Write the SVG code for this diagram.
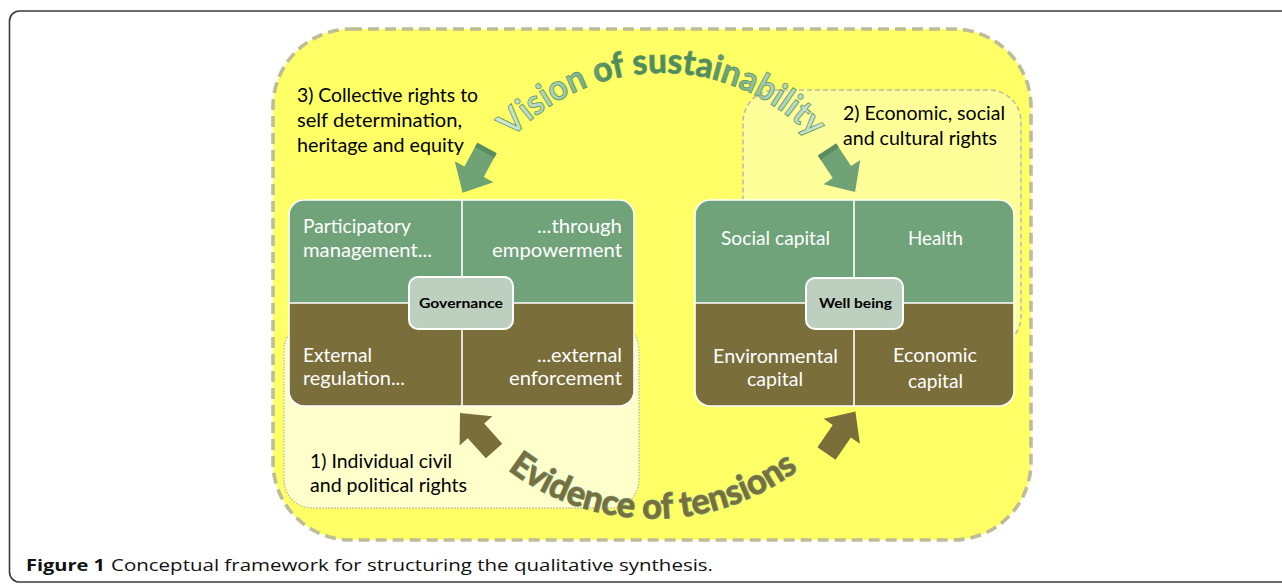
<svg xmlns="http://www.w3.org/2000/svg" xmlns:xlink="http://www.w3.org/1999/xlink" width="1282" height="584" viewBox="0 0 1282 584">
<style>
.lbl{font-family:Lato,"Open Sans","Liberation Sans",sans-serif;font-size:19px;fill:#000}
.cell{font-family:Lato,"Open Sans","Liberation Sans",sans-serif;font-size:19px;fill:#fff}
.hub{font-family:Lato,"Open Sans","Liberation Sans",sans-serif;font-size:14px;font-weight:bold;fill:#000}
.arc{font-family:Lato,"Open Sans","Liberation Sans",sans-serif;font-size:35px;font-weight:bold}
.cap{font-family:"Open Sans",Lato,"Liberation Sans",sans-serif;font-size:16.5px;fill:#111}
.green{fill:#70A37A}
.olive{fill:#7A6E3B}
.grid{stroke:#fff;stroke-width:1.6;fill:none}
.hubbox{fill:#BDCFBF;stroke:#fff;stroke-width:2}
</style>
<defs>
<path id="blockArrow" d="M0,-11 H27 V-22 L51,0 L27,22 V11 H0 Z"/>
<path id="visionArc" d="M 505.0 146.2 A 205 205 0 0 1 819.0 146.2"/>
<path id="evidenceArc" d="M 496.6 460.6 A 240 240 0 0 0 809.4 460.6"/>
<linearGradient id="visionGrad" gradientUnits="userSpaceOnUse" x1="498" y1="0" x2="835" y2="0">
<stop offset="0" stop-color="#D2EAD6"/>
<stop offset="0.18" stop-color="#A6CDAE"/>
<stop offset="0.33" stop-color="#4F8C5B"/>
<stop offset="0.62" stop-color="#4F8C5B"/>
<stop offset="0.8" stop-color="#A9D0B1"/>
<stop offset="1" stop-color="#D5ECD9"/>
</linearGradient>
</defs>
<rect width="1282" height="584" fill="#fff"/>
<rect x="9.5" y="11" width="1290" height="571" rx="10" fill="#fff" stroke="#3a3a3a" stroke-width="1.6"/>

<g id="sustainability-frame">
<rect x="273" y="29" width="758" height="511" rx="78" fill="#FFFF66" stroke="#BDBD98" stroke-width="3.6" stroke-dasharray="11 6"/>
</g>
<g id="rights-individual">
<rect x="284" y="322" width="355" height="186" rx="28" fill="#FFFFCC" stroke="#B9B9A6" stroke-width="1.3" stroke-dasharray="1.5 1.5"/>
<text class="lbl" x="310" y="468" textLength="142" lengthAdjust="spacingAndGlyphs">1) Individual civil</text>
<text class="lbl" x="310" y="492" textLength="157" lengthAdjust="spacingAndGlyphs">and political rights</text>
</g>
<g id="rights-economic">
<rect x="743" y="90" width="278" height="258" rx="32" fill="#FFFF99" stroke="#BDBDA8" stroke-width="1.6" stroke-dasharray="5 3"/>
<text class="lbl" x="843" y="120" textLength="162" lengthAdjust="spacingAndGlyphs">2) Economic, social</text>
<text class="lbl" x="843" y="145" textLength="154" lengthAdjust="spacingAndGlyphs">and cultural rights</text>
</g>
<g id="rights-collective">
<text class="lbl" x="297" y="102" textLength="181" lengthAdjust="spacingAndGlyphs">3) Collective rights to</text>
<text class="lbl" x="297" y="127" textLength="165" lengthAdjust="spacingAndGlyphs">self determination,</text>
<text class="lbl" x="297" y="152" textLength="167" lengthAdjust="spacingAndGlyphs">heritage and equity</text>
</g>

<g id="connectors">
<g transform="translate(487,148) rotate(118.6)">
<use xlink:href="#blockArrow" href="#blockArrow" fill="#6FA274"/>
<rect x="0" y="-11" width="5" height="22" fill="#5A8C5F"/>
</g>
<g transform="translate(827,149.5) rotate(56.6)">
<use xlink:href="#blockArrow" href="#blockArrow" fill="#6FA274"/>
<rect x="0" y="-11" width="5" height="22" fill="#5A8C5F"/>
</g>
<use xlink:href="#blockArrow" href="#blockArrow" class="olive" transform="translate(494,451) rotate(-131.8)"/>
<use xlink:href="#blockArrow" href="#blockArrow" class="olive" transform="translate(826.5,453.5) rotate(-55.5)"/>
</g>

<g id="governance">
<path class="green" d="M289,303 V215 A15 15 0 0 1 304,200 H619 A15 15 0 0 1 634,215 V303 Z"/>
<path class="olive" d="M289,303 H634 V391 A15 15 0 0 1 619,406 H304 A15 15 0 0 1 289,391 Z"/>
<rect class="grid" x="289" y="200" width="345" height="206" rx="15" stroke-width="2"/>
<line class="grid" x1="462" y1="200" x2="462" y2="406"/>
<line class="grid" x1="289" y1="303" x2="634" y2="303"/>
<text class="cell" x="303" y="233" textLength="108" lengthAdjust="spacingAndGlyphs">Participatory</text>
<text class="cell" x="303" y="257" textLength="129" lengthAdjust="spacingAndGlyphs">management...</text>
<text class="cell" x="537" y="233" textLength="85" lengthAdjust="spacingAndGlyphs">...through</text>
<text class="cell" x="492" y="257" textLength="130" lengthAdjust="spacingAndGlyphs">empowerment</text>
<text class="cell" x="303" y="362" textLength="69" lengthAdjust="spacingAndGlyphs">External</text>
<text class="cell" x="303" y="385" textLength="102" lengthAdjust="spacingAndGlyphs">regulation...</text>
<text class="cell" x="537" y="362" textLength="85" lengthAdjust="spacingAndGlyphs">...external</text>
<text class="cell" x="509" y="385" textLength="113" lengthAdjust="spacingAndGlyphs">enforcement</text>
<rect class="hubbox" x="409" y="277" width="104" height="52" rx="9"/>
<text class="hub" x="419" y="308" textLength="84" lengthAdjust="spacingAndGlyphs">Governance</text>
</g>

<g id="well-being">
<path class="green" d="M695,303 V215 A15 15 0 0 1 710,200 H999 A15 15 0 0 1 1014,215 V303 Z"/>
<path class="olive" d="M695,303 H1014 V391 A15 15 0 0 1 999,406 H710 A15 15 0 0 1 695,391 Z"/>
<rect class="grid" x="695" y="200" width="319" height="206" rx="15" stroke-width="2"/>
<line class="grid" x1="854" y1="200" x2="854" y2="406"/>
<line class="grid" x1="695" y1="303" x2="1014" y2="303"/>
<text class="cell" x="721" y="245" textLength="109" lengthAdjust="spacingAndGlyphs">Social capital</text>
<text class="cell" x="908" y="245" textLength="55" lengthAdjust="spacingAndGlyphs">Health</text>
<text class="cell" x="713" y="363" textLength="125" lengthAdjust="spacingAndGlyphs">Environmental</text>
<text class="cell" x="747" y="386" textLength="56" lengthAdjust="spacingAndGlyphs">capital</text>
<text class="cell" x="893" y="362" textLength="84" lengthAdjust="spacingAndGlyphs">Economic</text>
<text class="cell" x="908" y="388" textLength="55" lengthAdjust="spacingAndGlyphs">capital</text>
<rect class="hubbox" x="806" y="278" width="97" height="51" rx="9"/>
<text class="hub" x="819" y="308" textLength="73" lengthAdjust="spacingAndGlyphs">Well being</text>
</g>

<g id="vision">
<text class="arc" fill="url(#visionGrad)" stroke="#5E9466" stroke-width="0.8"><textPath xlink:href="#visionArc" href="#visionArc" startOffset="50%" text-anchor="middle" textLength="336" lengthAdjust="spacingAndGlyphs">Vision of sustainability</textPath></text>
</g>
<g id="evidence">
<text class="arc" fill="#7A6E3B" stroke="#6E9C84" stroke-width="1.4" paint-order="stroke"><textPath xlink:href="#evidenceArc" href="#evidenceArc" startOffset="50%" text-anchor="middle" textLength="312" lengthAdjust="spacingAndGlyphs">Evidence of tensions</textPath></text>
</g>

<g id="caption">
<text class="cap" x="26" y="571"><tspan font-weight="bold" textLength="79" lengthAdjust="spacingAndGlyphs">Figure 1</tspan><tspan x="111" textLength="602" lengthAdjust="spacingAndGlyphs">Conceptual framework for structuring the qualitative synthesis.</tspan></text>
</g>
</svg>
